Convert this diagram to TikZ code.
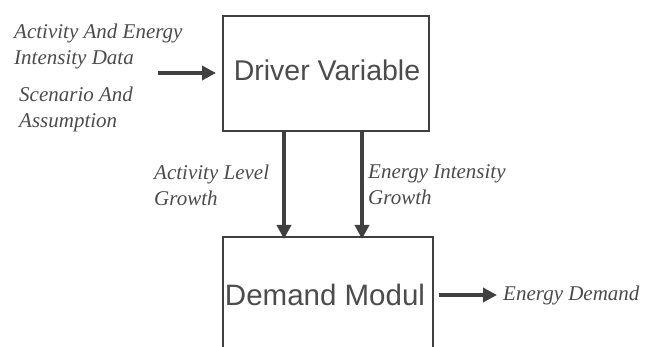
\documentclass[tikz,border=0pt]{standalone}
\usepackage{fontspec}
\setmainfont{Liberation Serif}
\setsansfont{Liberation Sans}
\usetikzlibrary{arrows.meta}
\begin{document}
\begin{tikzpicture}[x=1pt,y=-1pt,
  box/.style={draw=black!75,line width=2.2pt,inner sep=0pt,anchor=north west},
  boxtext/.style={font=\sffamily,text=black!70,inner sep=0pt},
  lab/.style={font=\itshape\fontsize{21}{26}\selectfont,text=black!70,inner sep=0pt,align=left},
  arr/.style={draw=black!75,line width=3.4pt,-{Triangle[length=14pt,width=14pt]}}]
\useasboundingbox (0,0) rectangle (645,347);
\clip (0,0) rectangle (645,347);
\fill[white] (0,0) rectangle (645,347);
\node[box,minimum width=206pt,minimum height=115pt] (drv) at (222,15) {};
\node[boxtext,font=\sffamily\fontsize{28.5}{30}\selectfont] (drvt) at (327,70) {Driver Variable};
\node[box,minimum width=210pt,minimum height=130pt] (dem) at (222,236) {};
\node[boxtext,font=\sffamily\fontsize{29.5}{30}\selectfont] (demt) at (325,295) {Demand Modul};
\node[lab,anchor=west] (in1) at (14,46) {Activity And Energy\\Intensity Data};
\node[lab,anchor=west] (in2) at (19,109) {Scenario And\\Assumption};
\node[lab,anchor=west] (al) at (154,185) {Activity Level\\Growth};
\node[lab,anchor=west] (ei) at (368,185) {Energy Intensity\\Growth};
\node[lab,anchor=west] (ed) at (503,295) {Energy Demand};
\coordinate (inS) at (158,73);
\coordinate (a1) at (284,0);
\coordinate (a2) at (362,0);
\draw[arr] (inS) -- ([xshift=-6pt]drv.west |- inS);
\draw[arr] (drv.south -| a1) -- ([yshift=-3pt]dem.north -| a1);
\draw[arr] (drv.south -| a2) -- ([yshift=-3pt]dem.north -| a2);
\draw[arr] ([xshift=5pt]dem.east |- demt) -- ([xshift=-6pt]ed.west);
\end{tikzpicture}
\end{document}
